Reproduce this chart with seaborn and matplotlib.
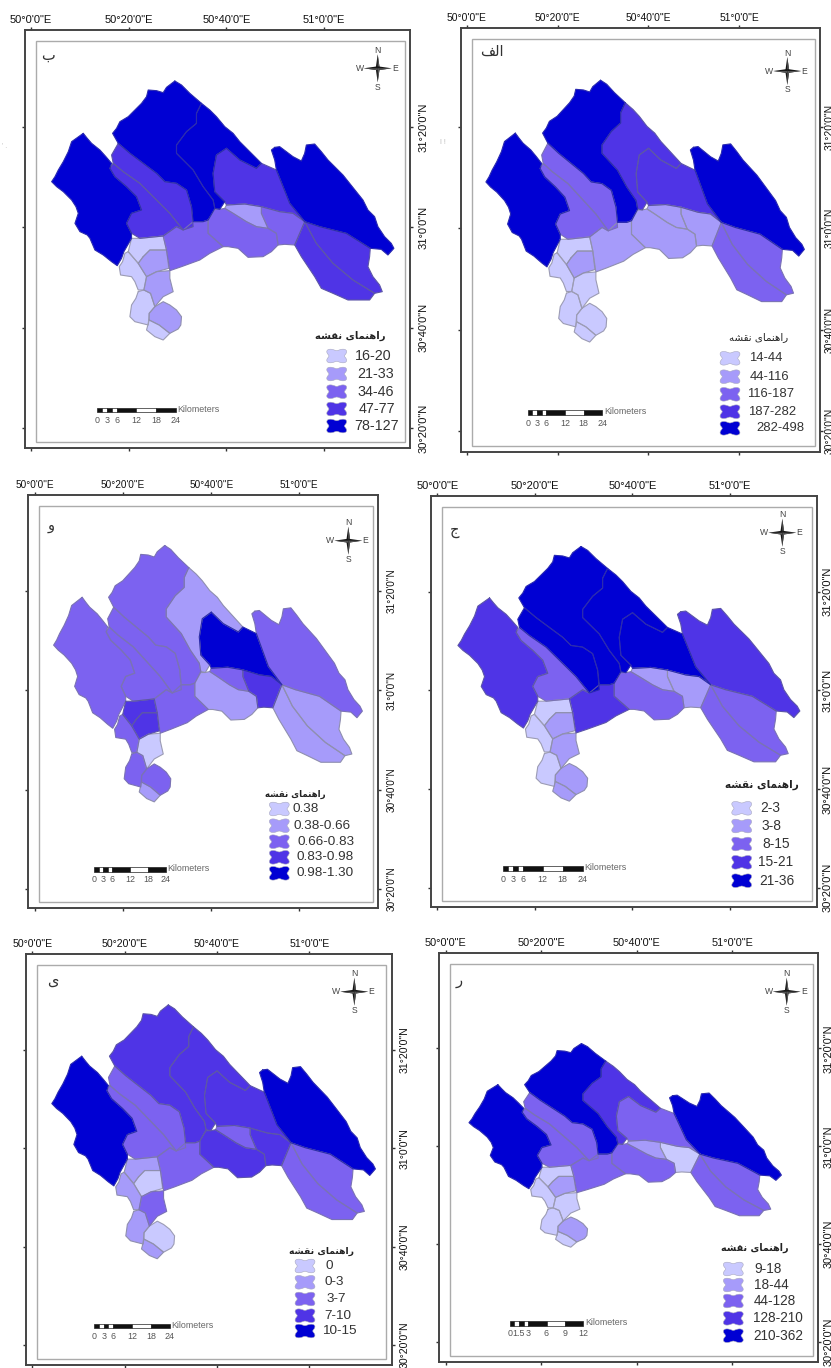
import numpy as np
import pandas as pd
import matplotlib
matplotlib.use("Agg")
import matplotlib.pyplot as plt
from matplotlib.patches import Rectangle
import seaborn as sns

sns.set_theme(style="white")
plt.rcParams['font.family'] = ['Liberation Sans', 'DejaVu Sans']

# ---- class colours -------------------------------------------------------
CLASS_COLORS = sns.color_palette(["#C9C9FF", "#A69BFA", "#7C62F0", "#4F34E6", "#0000D3"])
EDGE_COLORS = {0: "#9C9CB4", 1: "#8F8FAF", 2: "#7A72B4", 3: "#5C55A8", 4: "#2A2AB0"}

REGIONS = {
 "R1": [(250,400),(262,415),(275,430),(300,450),(318,470),(335,490),(330,505),(345,530),(380,560),(410,590),(425,630),(395,640),(380,670),(395,700),(395,715),(372,755),(365,775),(352,797),(335,785),(310,765),(285,750),(270,715),(262,705),(240,695),(225,670),(235,640),(228,620),(215,600),(190,575),(170,560),(155,545),(165,530),(175,510),(190,485),(205,455),(215,425)],
 "R2a": [(355,430),(335,465),(340,490),(370,515),(420,550),(470,600),(510,640),(550,690),(580,680),(575,620),(560,570),(530,550),(495,545),(470,520),(430,490),(390,460)],
 "R2b": [(340,490),(330,505),(345,530),(380,560),(410,590),(425,630),(395,640),(380,670),(395,700),(420,715),(490,708),(530,680),(550,690),(510,640),(470,600),(420,550),(370,515)],
 "R3": [(525,243),(500,262),(490,278),(470,272),(445,270),(440,290),(425,310),(405,330),(385,350),(360,365),(350,385),(338,400),(355,430),(390,460),(430,490),(470,520),(495,545),(530,550),(560,570),(575,620),(580,665),(610,665),(625,660),(645,625),(640,600),(610,560),(580,510),(530,460),(530,435),(560,395),(590,370),(590,340),(605,310),(570,280),(545,255)],
 "R4": [(605,310),(590,340),(590,370),(560,395),(530,435),(530,460),(580,510),(610,560),(640,600),(645,625),(660,628),(675,605),(645,575),(640,520),(650,465),(680,445),(720,480),(770,505),(785,490),(760,465),(740,445),(720,425),(700,400),(675,380),(650,350),(630,330)],
 "R5": [(680,445),(650,465),(640,520),(645,575),(675,605),(680,615),(735,612),(785,620),(840,635),(880,640),(915,665),(870,610),(830,510),(785,490),(770,505),(720,480)],
 "R6": [(680,615),(735,612),(785,620),(785,640),(805,685),(770,680),(740,665),(700,640),(675,625)],
 "R7": [(785,620),(840,635),(880,640),(915,665),(885,735),(855,733),(835,735),(830,700),(805,685),(785,640)],
 "R8": [(645,628),(660,628),(675,625),(700,640),(740,665),(770,680),(805,685),(830,700),(835,735),(815,755),(790,770),(745,772),(715,745),(685,740),(670,740),(625,700),(625,660)],
 "R9": [(490,708),(530,680),(550,690),(580,665),(610,665),(625,660),(625,700),(670,740),(630,760),(600,780),(545,800),(510,812),(500,750)],
 "R10": [(915,665),(960,680),(1040,700),(1112,745),(1110,770),(1105,800),(1120,830),(1140,855),(1148,875),(1125,880),(1060,840),(1000,790),(950,730)],
 "R11": [(915,665),(950,730),(1000,790),(1060,840),(1125,880),(1110,900),(1045,900),(1000,880),(965,865),(945,830),(925,800),(905,770),(885,735)],
 "R12": [(825,442),(815,450),(825,480),(830,510),(870,610),(915,665),(960,680),(1040,700),(1112,745),(1145,748),(1165,765),(1183,745),(1175,730),(1155,710),(1135,680),(1125,650),(1105,630),(1090,600),(1070,575),(1050,550),(1030,525),(1010,505),(985,480),(965,455),(945,432),(920,435),(915,460),(905,483),(880,470),(860,455),(840,440)],
 "R13": [(395,715),(420,715),(490,708),(500,750),(450,750),(430,770),(415,790),(385,755)],
 "R14": [(430,770),(450,750),(500,750),(507,805),(470,815),(440,830),(415,790)],
 "R15": [(385,755),(415,790),(440,830),(432,870),(415,870),(405,845),(395,830),(362,825),(358,800),(368,785),(375,760)],
 "R16": [(440,830),(470,815),(510,812),(510,835),(520,875),(490,890),(465,920),(452,880),(432,870)],
 "R17": [(415,875),(432,870),(452,880),(465,920),(448,940),(445,975),(405,965),(390,950),(395,915),(408,895)],
 "R18": [(465,920),(490,905),(510,915),(530,930),(545,950),(543,975),(535,987),(510,1000),(478,975),(448,960),(448,940)],
 "R19": [(448,960),(478,975),(510,1000),(490,1020),(465,1010),(440,990)],
}
REGION_NAMES = list(REGIONS)
# georeference of the digitised outline: u/v at 50 deg E, 31 deg 20 N and units per degree
GEO_U0, GEO_U_PER_DEG = 93.0, 880.0
GEO_V0, GEO_V_PER_DEG = 381.0, 903.0

# ---- class of each region (0 = lightest) per map, order as REGION_NAMES ----
CLASSES_BE   = [4,3,3,4,4,3,1,2,2,2,3,3,4,0,1,0,1,0,1,0]
CLASSES_ALEF = [4,2,2,4,3,3,1,1,1,1,2,2,4,0,1,0,0,0,0,0]
CLASSES_VAV  = [2,2,2,2,1,4,2,3,1,2,1,1,2,3,3,2,0,2,2,1]
CLASSES_JIM  = [3,4,2,4,4,4,1,1,2,3,2,2,3,0,1,0,1,0,1,1]
CLASSES_YE   = [4,2,2,3,3,3,2,3,3,2,2,2,4,1,0,1,2,1,0,1]
CLASSES_RE   = [4,2,2,4,3,2,1,0,2,2,2,2,4,0,1,0,0,0,1,0]

LEGEND_BE   = ["16-20","21-33","34-46","47-77","78-127"]
LEGEND_ALEF = ["14-44","44-116","116-187","187-282","282-498"]
LEGEND_VAV  = ["0.38","0.38-0.66","0.66-0.83","0.83-0.98","0.98-1.30"]
LEGEND_JIM  = ["2-3","3-8","8-15","15-21","21-36"]
LEGEND_YE   = ["0","0-3","3-7","7-10","10-15"]
LEGEND_RE   = ["9-18","18-44","44-128","128-210","210-362"]

LON_TICKS = [50.0, 50+20/60, 50+40/60, 51.0]
LON_LABELS = ["50°0'0\"E", "50°20'0\"E", "50°40'0\"E", "51°0'0\"E"]
LAT_TICKS = [31+20/60, 31.0, 30+40/60, 30+20/60]
LAT_LABELS = ["31°20'0\"N", "31°0'0\"N", "30°40'0\"N", "30°20'0\"N"]

SCALE_24 = ["0","3","6","12","18","24"]
SCALE_12 = ["0","1.5","3","6","9","12"]
SCALE_FRAC = [0, .125, .25, .5, .75, 1]

# Arabic text is given in presentation forms, left-to-right, since matplotlib does not shape it
TITLE_FA = "\uFEEA\uFEB8\uFED8\uFEE7 \uFBFC\uFE8E\uFEE4\uFEE8\uFEEB\uFE8D\uFEAD"
ALEF_FA = "\uFED2\uFEDF\uFE8D"

PANELS = [
 dict(letter="\uFE8F", lx=47.7, ly=55, frame=(25,30,410,448), xt=(31,324), yt=(127,428), cls=CLASSES_BE, leg=LEGEND_BE,
      north=(377.7,68.3), bar=(96.7,176,410), sc=SCALE_24, title=(350,335.7), ts=7.2, sx=336.7, ypad=3.5,
      sy=[356,374,391.7,409,426], lab=[373,376,376,377,377], fs=10.3, fit=None),
 dict(letter=ALEF_FA, lx=491.7, ly=51, frame=(460.7,28,820,452), xt=(466.7,739.3), yt=(126.7,431), cls=CLASSES_ALEF, leg=LEGEND_ALEF,
      north=(787.3,71), bar=(527.7,602.3,412.7), sc=SCALE_24, title=(758.3,337.3), ts=7.4, sx=730, ypad=0.8,
      sy=[358.3,376.7,394.3,411.7,428.3], lab=[765.7,769.3,770.7,771.7,780], fs=9.4, fit=None),
 dict(letter="\u0648", lx=50.7, ly=525.7, frame=(28.3,495,378.3,908.3), xt=(35,299.3), yt=(591,889), cls=CLASSES_VAV, leg=LEGEND_VAV,
      north=(348.3,540.7), bar=(94.3,166,869.7), sc=SCALE_24, title=(295.7,794.3), ts=6.2, sx=279.3, ypad=3.5,
      sy=[809,825.7,841.7,857.3,873.3], lab=[305.7,322.3,326,325,325], fs=9.7, fit=None),
 dict(letter="\u062C", lx=455, ly=531, frame=(430.7,496,817.3,907.3), xt=(437.3,730), yt=(591.7,887.7), cls=CLASSES_JIM, leg=LEGEND_JIM,
      north=(782.3,532.7), bar=(502.7,582.7,868.7), sc=SCALE_24, title=(761.7,785), ts=7.6, sx=741.7, ypad=1.5,
      sy=[808.3,826,844,862.3,880.7], lab=[770.3,771.7,775.7,775.7,776.7], fs=9.9, fit=None),
 dict(letter="\u06CC", lx=52.7, ly=980, frame=(26,954.3,391.7,1365), xt=(32.3,309.3), yt=(1050,1345), cls=CLASSES_YE, leg=LEGEND_YE,
      north=(354.3,991.7), bar=(94.3,170,1326), sc=SCALE_24, title=(321.7,1251), ts=6.7, sx=305, ypad=3.5,
      sy=[1266,1282.3,1299,1315.7,1331], lab=[329,334.3,336.7,338.3,339], fs=9.7, fit=None),
 dict(letter="\u0631", lx=459.3, ly=980, frame=(439.3,953.3,818.3,1362.3), xt=(445.7,732.3), yt=(1048.3,1342.3), cls=CLASSES_RE, leg=LEGEND_RE,
      north=(786.7,991.7), bar=(509.7,583.3,1323.7), sc=SCALE_12, title=(755,1248.3), ts=6.9, sx=733.3, ypad=1.5,
      sy=[1269,1285,1301,1318.3,1335.7], lab=[768.3,771,775,777.7,778.3], fs=9.8,
      fit=dict(xa=.238, xb=.933, x0=.205, ya=.05, yb=.805, y0=.46)),
]
# faint stray marks beside the upper maps
STRAY_MARKS = [(443, 142, "I !"), (5, 147, "' .")]

W, H = 831, 1368
fig = plt.figure(figsize=(W/100, H/100), dpi=100, facecolor="white")


def region_table(classes, fit):
    rows = []
    for name, c in zip(REGION_NAMES, classes):
        pts = REGIONS[name] + [REGIONS[name][0]]
        for u, v in pts:
            lon = 50 + (u - GEO_U0) / GEO_U_PER_DEG
            lat = 31 + 20/60 - (v - GEO_V0) / GEO_V_PER_DEG
            if fit:
                tx = (lon - 50) * 3
                ty = (31 + 20/60 - lat) * 3
                tx = fit["xa"] + (tx - fit["x0"]) * fit["xb"]
                ty = -fit["ya"] + (ty + fit["y0"]) * fit["yb"]
                lon = 50 + tx / 3
                lat = 31 + 20/60 - ty / 3
            rows.append((name, c, lon, lat))
    return pd.DataFrame(rows, columns=["region", "cls", "lon", "lat"])


for p in PANELS:
    l, t, r, b = p["frame"]
    ax = fig.add_axes([l/W, 1-b/H, (r-l)/W, (b-t)/H])
    df = region_table(p["cls"], p["fit"])
    for (name, c), g in sorted(df.groupby(["region", "cls"]), key=lambda kv: kv[0][1]):
        ax.fill(g["lon"], g["lat"], color=CLASS_COLORS[c], lw=0, zorder=2)
    sns.lineplot(data=df, x="lon", y="lat", units="region", hue="cls", palette=EDGE_COLORS,
                 estimator=None, sort=False, legend=False, linewidth=0.8, ax=ax, zorder=3)
    x0, x3 = p["xt"]
    y0, y3 = p["yt"]
    ax.set_xlim(50 + (l-x0)/(x3-x0), 50 + (r-x0)/(x3-x0))
    span = LAT_TICKS[0] - LAT_TICKS[3]
    ax.set_ylim(LAT_TICKS[0] - (b-y0)/(y3-y0)*span, LAT_TICKS[0] + (y0-t)/(y3-y0)*span)
    ax.set_xlabel(""); ax.set_ylabel("")
    size = 8.0 * (x3-x0)/3/97.8
    ax.set_xticks(LON_TICKS); ax.set_xticklabels(LON_LABELS, fontsize=size, color="#111111")
    ax.set_yticks(LAT_TICKS)
    ax.set_yticklabels(LAT_LABELS, fontsize=size, color="#111111", rotation=90, va="center")
    ax.tick_params(top=True, labeltop=True, bottom=True, labelbottom=False, left=True, labelleft=False,
                   right=True, labelright=True, length=2.5, width=1.0, color="#333333")
    ax.tick_params(axis="x", pad=1)
    ax.tick_params(axis="y", pad=p["ypad"])
    for s in ax.spines.values():
        s.set_linewidth(1.4); s.set_color("#444444"); s.set_visible(True)

ov = fig.add_axes([0, 0, 1, 1], facecolor="none", zorder=10)
ov.set_xlim(0, W); ov.set_ylim(H, 0); ov.axis("off")

theta = np.linspace(0, 2*np.pi, 80)
rad = 1 - 0.24*np.cos(4*theta)


def swatch(x, y, color):
    ov.fill(x + 10.2*rad*np.cos(theta), y + 7*rad*np.sin(theta), facecolor=color, edgecolor="#A8A8C0", lw=0.4)


def compass(x, y):
    arm, w = 14, 2.0
    tips = [(0,-arm),(arm,0),(0,arm),(-arm,0)]
    for (dx, dy) in tips:
        nx, ny = (dy and w or 0), (dx and w or 0)
        ov.fill([x+dx, x+nx, x, x-nx], [y+dy, y+ny, y, y-ny], color="#151515", lw=0)
        ov.fill([x+dx, x+nx, x], [y+dy, y+ny, y], color="#555555", lw=0)
    kw = dict(fontsize=6.2, color="#444444", ha="center", va="center")
    ov.text(x, y-18, "N", **kw); ov.text(x, y+19, "S", **kw)
    ov.text(x-18, y, "W", **kw); ov.text(x+17, y, "E", **kw)


def scalebar(x0, x1, y, labels):
    w = x1 - x0
    edges = [0, .0625, .125, .1875, .25, .5, .75, 1]
    for i in range(7):
        ov.add_patch(Rectangle((x0+edges[i]*w, y-2.3), (edges[i+1]-edges[i])*w, 4.6,
                               facecolor="#111111" if i % 2 == 0 else "white", edgecolor="#222222", lw=0.5))
    for f, s in zip(SCALE_FRAC, labels):
        ov.text(x0+f*w, y+10.3, s, fontsize=6.4, color="#555555", ha="center", va="center")
    ov.text(x1+1.5, y-1, "Kilometers", fontsize=6.4, color="#666666", ha="left", va="center")


for p in PANELS:
    l, t, r, b = p["frame"]
    ov.add_patch(Rectangle((l+11, t+11), (r-l)-16.5, (b-t)-17, fill=False, edgecolor="#ABABAB", lw=1.0))
    ov.text(p["lx"], p["ly"], p["letter"], fontsize=10.5, color="#333333", ha="center", va="center",
            family=["DejaVu Sans"])
    compass(*p["north"])
    scalebar(*p["bar"], p["sc"])
    ov.text(*p["title"], TITLE_FA, fontsize=p["ts"], color="#222222", ha="center", va="center",
            family=["DejaVu Sans"], weight="bold" if p["letter"] != ALEF_FA else "normal")
    for i, (yy, xx, s) in enumerate(zip(p["sy"], p["lab"], p["leg"])):
        swatch(p["sx"], yy, CLASS_COLORS[i])
        ov.text(xx, yy, s, fontsize=p["fs"], color="#333333", ha="center", va="center")

for x, y, s in STRAY_MARKS:
    ov.text(x, y, s, fontsize=5, color="#BBBBBB", ha="center", va="center")

fig.savefig("out.png", dpi=100, facecolor="white")
